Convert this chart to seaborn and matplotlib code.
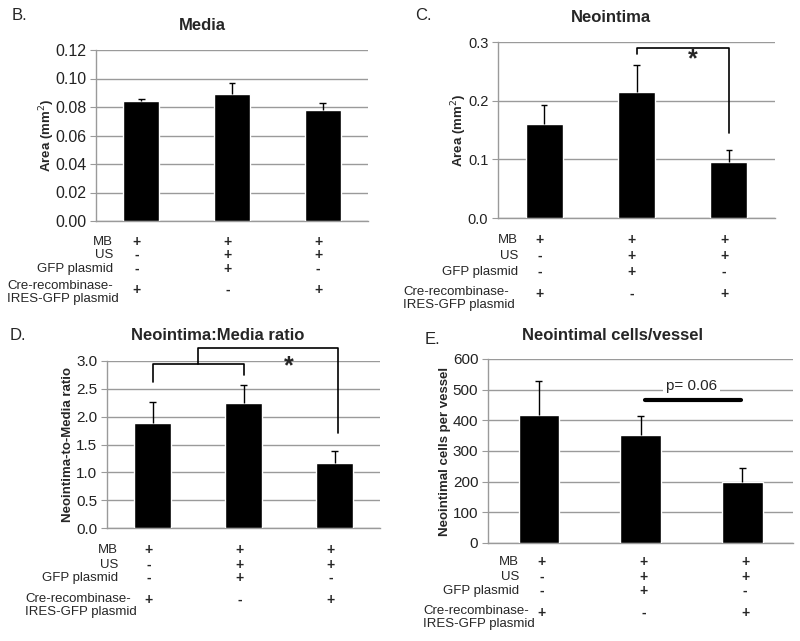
import numpy as np
import pandas as pd
import seaborn as sns
import matplotlib.pyplot as plt
from matplotlib.transforms import blended_transform_factory

# Datos
grupos = ["G1", "G2", "G3"]
media_val = [0.084, 0.089, 0.078]
media_err = [0.0015, 0.0075, 0.0045]
neo_val = [0.160, 0.215, 0.096]
neo_err = [0.032, 0.045, 0.020]
ratio_val = [1.89, 2.24, 1.16]
ratio_err = [0.38, 0.33, 0.22]
cells_val = [418, 353, 200]
cells_err = [110, 62, 43]

filas_tabla = ["MB", "US", "GFP plasmid"]
mb = ["+", "+", "+"]
us = ["-", "+", "+"]
gfp = ["-", "+", "-"]
cre = ["+", "-", "+"]

W, H = 800, 641

sns.set_style("white")
plt.rcParams["font.family"] = ["Liberation Sans", "DejaVu Sans"]

fig = plt.figure(figsize=(8, 6.41), dpi=100)


def fx(px):
    return px / W


def fy(py):
    return 1 - py / H


def panel(caja, valores, errores, ylim, yticks, fmt, tick_fs, titulo, tit_xy,
          letra, letra_xy, ylabel, ylabel_x, filas_y, lab_right, cre_left, off):
    l, t, r, b = caja
    ax = fig.add_axes([fx(l), fy(b), fx(r - l), (b - t) / H])
    df = pd.DataFrame({"grupo": grupos, "valor": valores})
    sns.barplot(data=df, x="grupo", y="valor", color="black", saturation=1,
                width=0.4, ax=ax, errorbar=None, zorder=3)
    # barras de error solo hacia arriba
    x = np.arange(3)
    tope = np.array(valores) + np.array(errores)
    ax.vlines(x, valores, tope, color="black", lw=1, zorder=4)
    ax.hlines(tope, x - 0.035, x + 0.035, color="black", lw=1, zorder=4)
    ax.set_xlim(-0.5, 2.5)
    ax.set_ylim(*ylim)
    ax.set_yticks(yticks)
    ax.set_yticklabels([fmt.format(v) for v in yticks], fontsize=tick_fs, color="#222222")
    ax.set_xticks([])
    ax.set_xlabel("")
    ax.set_ylabel("")
    ax.grid(axis="y", color="#9a9a9a", linewidth=1)
    ax.set_axisbelow(True)
    for s in ["top", "right"]:
        ax.spines[s].set_visible(False)
    for s in ["left", "bottom"]:
        ax.spines[s].set_color("#9a9a9a")
        ax.spines[s].set_linewidth(1)
    ax.tick_params(axis="y", length=4, color="#9a9a9a", left=True, pad=3)

    fig.text(fx(tit_xy[0]), fy(tit_xy[1]), titulo, ha="center", va="center",
             fontsize=12, fontweight="bold")
    fig.text(fx(letra_xy[0]), fy(letra_xy[1]), letra, ha="left", va="center", fontsize=12)
    fig.text(fx(ylabel_x), fy((t + b) / 2), ylabel, rotation=90, ha="center",
             va="center", fontsize=9.5, fontweight="bold")

    # tabla de condiciones bajo el eje
    tr = blended_transform_factory(ax.transData, fig.transFigure)
    for nombre, simb, py in zip(filas_tabla, [mb, us, gfp], filas_y[:3]):
        fig.text(fx(lab_right), fy(py), nombre, ha="right", va="center", fontsize=9.5)
        for i, s in enumerate(simb):
            ax.text(i + off, fy(py), s, transform=tr, ha="center", va="center",
                    fontsize=10, fontweight="bold")
    fig.text(fx(cre_left), fy(filas_y[3]), "Cre-recombinase-\nIRES-GFP plasmid",
             ha="left", va="top", fontsize=9.5, linespacing=1.15)
    for i, s in enumerate(cre):
        ax.text(i + off, fy(filas_y[4]), s, transform=tr, ha="center", va="center",
                fontsize=10, fontweight="bold")
    return ax


# B. Media
axb = panel((96, 50, 368, 221), media_val, media_err, (0, 0.12),
            np.arange(0, 0.121, 0.02), "{:.2f}", 11.5, "Media", (202, 25),
            "B.", (12, 15), "Area (mm$^2$)", 47, [242, 255, 269, 280, 290], 113, 7, -0.05)

# C. Neointima
axc = panel((498, 42, 775, 218), neo_val, neo_err, (0, 0.3),
            np.arange(0, 0.31, 0.1), "{:.1f}", 10.5, "Neointima", (611, 18),
            "C.", (415, 15), "Area (mm$^2$)", 459, [240, 256, 272, 286, 294], 518, 403, -0.05)
axc.plot([1, 1, 2, 2], [0.28, 0.29, 0.29, 0.145], color="black", lw=1.2, clip_on=False, zorder=5)
axc.text(1.61, 0.27, "*", ha="center", va="center", fontsize=18, fontweight="bold")

# D. Neointima:Media ratio
axd = panel((107, 361, 380, 528), ratio_val, ratio_err, (0, 3.0),
            np.arange(0, 3.01, 0.5), "{:.1f}", 11, "Neointima:Media ratio", (218, 335),
            "D.", (10, 336), "Neointima-to-Media ratio", 68, [550, 565, 578, 593, 600], 118, 25, -0.04)
axd.plot([0, 0, 1, 1], [2.62, 2.95, 2.95, 2.75], color="black", lw=1.2, clip_on=False, zorder=5)
axd.plot([0.5, 0.5, 2.04, 2.04], [2.95, 3.23, 3.23, 1.71], color="black", lw=1.2, clip_on=False, zorder=5)
axd.text(1.5, 2.9, "*", ha="center", va="center", fontsize=18, fontweight="bold")

# E. Neointimal cells/vessel
axe = panel((488, 359, 793, 543), cells_val, cells_err, (0, 600),
            np.arange(0, 601, 100), "{:.0f}", 11, "Neointimal cells/vessel", (612, 335),
            "E.", (425, 340), "Neointimal cells per vessel", 445, [562, 577, 591, 605, 613], 519, 423, 0.03)
axe.plot([1.04, 1.99], [466, 466], color="black", lw=3, zorder=5)
axe.text(1.5, 512, "p= 0.06", ha="center", va="center", fontsize=11,
         bbox=dict(facecolor="white", edgecolor="none", pad=2), zorder=5)

fig.savefig("out.png", dpi=100)
